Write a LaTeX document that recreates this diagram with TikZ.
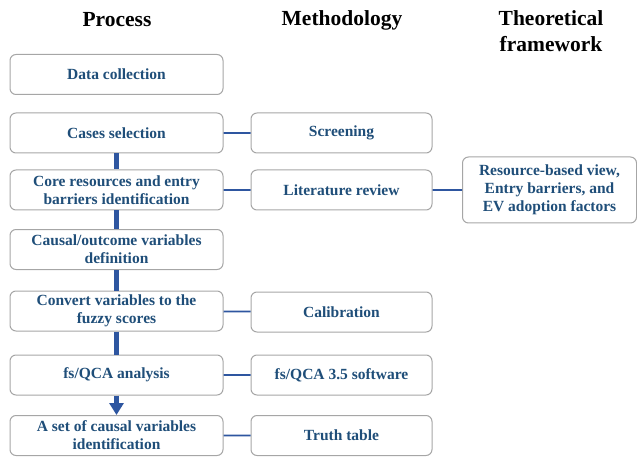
\documentclass[tikz,border=0pt]{standalone}
\usepackage{fontspec}
\setmainfont{Liberation Serif}
\usetikzlibrary{arrows.meta}
\definecolor{textblue}{HTML}{1F4E79}
\definecolor{lineblue}{HTML}{2E56A0}
\definecolor{boxgray}{HTML}{A6A6A6}

\begin{document}
\begin{tikzpicture}[x=1pt, y=-1pt, font=\bfseries\fontsize{15.5}{18}\selectfont,
            box/.style={rectangle, rounded corners=6pt, draw=boxgray, line width=1pt, fill=white,
                        text=textblue, align=center, minimum height=40pt, inner sep=0pt},
            procbox/.style={box, minimum width=213pt},
            methbox/.style={box, minimum width=181pt},
            head/.style={font=\bfseries\fontsize{21.5}{26}\selectfont, align=center},
            flow/.style={lineblue, line width=5pt},
            link/.style={lineblue, line width=1.8pt}]
            \useasboundingbox (0,0) rectangle (637,457);
            % column headers
            \node[head] (hproc) at (117,20) {Process};
            \node[head] (hmeth) at (342,20) {Methodology};
            \node[head] (htheo) at (551,31) {Theoretical\\framework};
            % process column
            \node[procbox] (data) at (116.5,74.5) {Data collection};
            \node[procbox] (cases) at (116.5,133) {Cases selection};
            \node[procbox] (core) at (116.5,190) {Core resources and entry\\barriers identification};
            \node[procbox] (causal) at (116.5,249.5) {Causal/outcome variables\\definition};
            \node[procbox] (convert) at (116.5,311) {Convert variables to the\\fuzzy scores};
            \node[procbox] (fsqca) at (116.5,375) {fs/QCA analysis};
            \node[procbox] (set) at (116.5,435.5) {A set of causal variables\\identification};
            % methodology column
            \node[methbox] (screen) at (341.5,133) {Screening};
            \node[methbox] (lit) at (341.5,190) {Literature review};
            \node[methbox] (calib) at (341.5,312) {Calibration};
            \node[methbox] (soft) at (341.5,375) {fs/QCA 3.5 software};
            \node[methbox] (truth) at (341.5,435.5) {Truth table};
            % theoretical framework
            \node[box, minimum width=174pt, minimum height=66pt] (theory) at (549.5,190)
                {Resource-based view,\\Entry barriers, and\\EV adoption factors};
            \draw[flow] (cases)--(core) (core)--(causal) (causal)--(convert) (convert)--(fsqca);
            \draw[flow, -{Triangle[width=14pt,length=12pt]}] (fsqca)--(set);
            \draw[link] (cases)--(screen) (core)--(lit) (convert)--(calib)
                        (fsqca)--(soft) (set)--(truth) (lit)--(theory);
        \end{tikzpicture}
\end{document}
